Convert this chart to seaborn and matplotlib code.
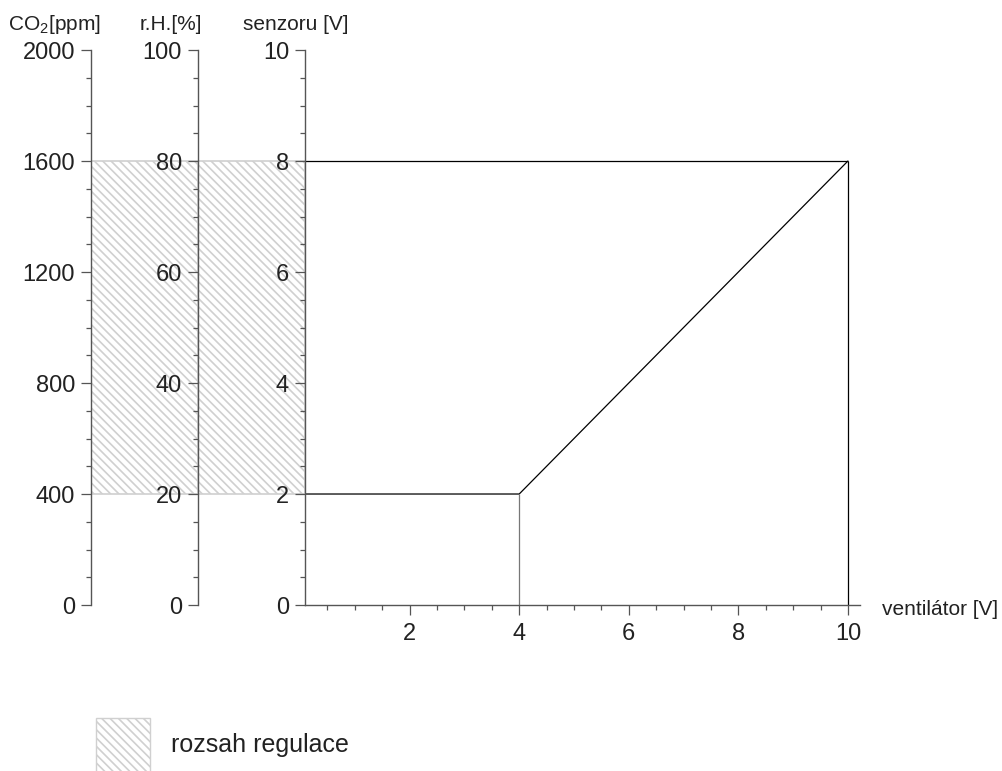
import matplotlib
matplotlib.use("Agg")
import matplotlib.pyplot as plt
import matplotlib.patches as mpatches
from matplotlib.ticker import MultipleLocator
import seaborn as sns

# Style
sns.set_theme(style="ticks")
plt.rcParams['font.family'] = ['Liberation Sans', 'DejaVu Sans']
plt.rcParams['mathtext.fontset'] = 'custom'
plt.rcParams['mathtext.rm'] = 'Liberation Sans'
plt.rcParams['hatch.color'] = '#d0d0d0'
plt.rcParams['hatch.linewidth'] = 1.2

TEXT_COLOR = "#222222"
SPINE_COLOR = "#555555"
HATCH_COLOR = "#d0d0d0"

# Sensor -> fan characteristic (knee points)
VENT_V = [0, 4, 10]
SENSOR_V = [2, 2, 8]

# Axis ranges
SENSOR_MAX = 10
CO2_MAX = 2000
RH_MAX = 100
X_TICKS = [2, 4, 6, 8, 10]

# Regulation range for each scale
CO2_RANGE = [400, 1600]
RH_RANGE = [20, 80]

LABEL_CO2 = "CO$_2$[ppm]"
LABEL_RH = "r.H.[%]"
LABEL_SENSOR = "senzoru [V]"
LABEL_FAN = "ventilátor [V]"
LEGEND_LABEL = "rozsah regulace"

HATCH = "\\\\\\\\"


def style_ticks(ax, axis):
    ax.tick_params(axis=axis, which='major', length=7.2, width=0.9, color=SPINE_COLOR,
                   labelsize=17, labelcolor=TEXT_COLOR, direction='out')
    ax.tick_params(axis=axis, which='minor', length=3.6, width=0.9, color=SPINE_COLOR,
                   direction='out')


def side_scale(ax, vmax, span):
    ax.set_ylim(0, vmax)
    ax.set_xlim(0, 1)
    ax.set_xticks([])
    for s in ["top", "right", "bottom"]:
        ax.spines[s].set_visible(False)
    ax.spines["left"].set_color(SPINE_COLOR)
    ax.spines["left"].set_linewidth(1.0)
    ax.set_yticks([vmax / 5 * i for i in range(6)])
    ax.yaxis.set_major_formatter(plt.FuncFormatter(lambda v, p: f"{v:g}"))
    ax.yaxis.set_minor_locator(MultipleLocator(vmax / 20))
    style_ticks(ax, 'y')
    ax.tick_params(axis='y', which='major', pad=4.3)
    ax.axhspan(span[0], span[1], facecolor='none', edgecolor=HATCH_COLOR,
               hatch=HATCH, linewidth=1.2, zorder=0)
    ax.set_facecolor('none')


fig = plt.figure(figsize=(10.03, 7.71), dpi=100)
bottom, height = 0.2153, 0.7198
ax_co2 = fig.add_axes([0.0907, bottom, 0.1067, height])
ax_rh = fig.add_axes([0.1974, bottom, 0.1067, height])
ax = fig.add_axes([0.3041, bottom, 0.5533, height])

side_scale(ax_co2, CO2_MAX, CO2_RANGE)
side_scale(ax_rh, RH_MAX, RH_RANGE)

# Main characteristic
sns.lineplot(x=VENT_V, y=SENSOR_V, sort=False, color='black', linewidth=0.9, ax=ax)
ax.hlines(SENSOR_V[-1], 0, VENT_V[-1], color='black', linewidth=0.9)
ax.vlines(VENT_V[1:], 0, SENSOR_V[1:], color=['#777777', 'black'], linewidth=0.9)

ax.set_xlim(0.09, 10.22)
ax.set_ylim(0, SENSOR_MAX)
ax.set_xticks(X_TICKS)
ax.set_yticks(range(0, SENSOR_MAX + 1, 2))
ax.xaxis.set_minor_locator(MultipleLocator(0.5))
ax.yaxis.set_minor_locator(MultipleLocator(0.5))
style_ticks(ax, 'x')
style_ticks(ax, 'y')
ax.tick_params(axis='x', which='major', pad=5.4)
ax.tick_params(axis='y', which='major', pad=4.3)
for s in ["top", "right"]:
    ax.spines[s].set_visible(False)
for s in ["left", "bottom"]:
    ax.spines[s].set_color(SPINE_COLOR)
    ax.spines[s].set_linewidth(1.0)
ax.set_facecolor('none')
ax.set_xlabel("")
ax.set_ylabel("")

# Scale titles
fig.text(0.0538, 0.961, LABEL_CO2, ha='center', va='baseline', fontsize=15, color=TEXT_COLOR)
fig.text(0.1705, 0.961, LABEL_RH, ha='center', va='baseline', fontsize=15, color=TEXT_COLOR)
fig.text(0.2951, 0.961, LABEL_SENSOR, ha='center', va='baseline', fontsize=15, color=TEXT_COLOR)
fig.text(0.8794, 0.2023, LABEL_FAN, ha='left', va='baseline', fontsize=15, color=TEXT_COLOR)

# Legend
handle = mpatches.Patch(facecolor='none', edgecolor=HATCH_COLOR, hatch=HATCH, label=LEGEND_LABEL)
fig.legend(handles=[handle], loc='center left', bbox_to_anchor=(0.0957, 0.0337),
           frameon=False, fontsize=18, handlelength=2.16, handleheight=2.9,
           handletextpad=0.85, borderpad=0, borderaxespad=0, labelcolor=TEXT_COLOR)

fig.savefig("out.png", dpi=100)
